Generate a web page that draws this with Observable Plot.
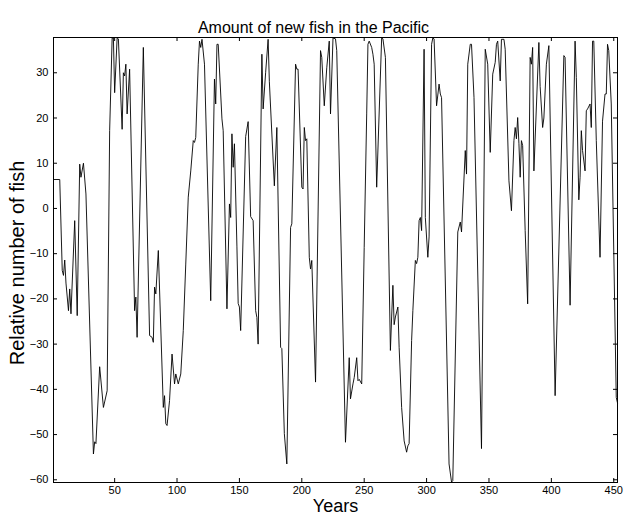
<!DOCTYPE html>
<html><head><meta charset="utf-8">
<script src="https://cdn.jsdelivr.net/npm/d3@7"></script>
<script src="https://cdn.jsdelivr.net/npm/@observablehq/plot@0.6"></script>
<style>body{margin:0;background:#fff}</style>
</head><body><div id="chart"></div>
<script>
const titleText = "Amount of new fish in the Pacific";
const xLabel = "Years";
const yLabel = "Relative number of fish";
const xTicks = [50, 100, 150, 200, 250, 300, 350, 400, 450];
const yTicks = [-60, -50, -40, -30, -20, -10, 0, 10, 20, 30];

const years = [1,6,8,9,10,11,13,14,15,18,20,22,23,25,27,33,34,35,38,41,44,46,48,49,50,52,53,56,57,58,59,60,62,66,67,68,73,78,80,81,82,83,85,89,90,91,92,94,96,98,99,101,103,105,107,109,111,113,114,115,117,118,119,120,122,127,130,131,132,133,136,137,140,142,143,144,145,146,148,149,150,151,155,157,159,161,163,164,165,168,169,171,173,174,178,180,183,184,186,188,191,192,195,196,197,200,201,202,203,204,206,207,208,211,215,216,218,220,222,223,225,227,228,235,238,239,241,242,244,245,246,248,250,252,253,254,256,257,258,260,264,265,267,271,272,273,274,275,277,278,280,282,284,285,286,288,289,291,292,293,294,295,296,298,299,301,302,304,305,306,308,310,311,312,318,320,321,325,327,328,331,332,333,335,336,338,344,347,349,351,353,355,356,357,359,360,362,363,366,368,370,371,372,373,374,375,376,377,379,381,383,384,385,386,390,391,393,394,396,398,403,410,411,415,419,420,422,423,424,425,427,428,429,431,432,433,434,436,439,441,443,444,445,446,448,452,453];
const values = [6.4,6.4,-13.7,-14.8,-11.4,-16.5,-22.6,-17.8,-23.3,-2.7,-23.7,9.8,6.9,10,3.2,-54.3,-51.6,-52,-35,-44,-40.3,17.2,37.7,37.7,25.6,37.7,37.5,17.5,30,29.3,31.9,20.9,30.8,-22.6,-19.6,-28.5,35.6,-28.1,-28.5,-29.6,-17.4,-18.9,-9.3,-44,-41.4,-47.6,-48,-42.5,-32.2,-38.8,-36.6,-38.8,-36.6,-27,-12.3,2.5,8.3,15,14.6,15.7,31.9,37,35.6,37.4,31.9,-20.4,28.6,23.1,36.3,36.3,19.8,17.2,-22.2,1,-2,16.5,9.1,14.3,-8.5,-21,-21.8,-27,15.9,19.2,-1.8,-2.7,-22.6,-24.1,-30,34.1,22,30,37.4,28,5,17.9,-30.7,-31,-49.8,-56.5,-4.2,-3.4,31.9,30.8,30.8,4.7,4.3,17.9,15,15.4,-10.8,-13.4,-11.5,-38.4,34.9,33.4,22.7,31.1,37,20.9,37.7,37.5,34.9,-51.7,-33,-42.1,-38.8,-37.4,-33,-38.1,-37.8,-38.8,-8.6,20.9,36.3,37,35.6,34.1,31.9,4.7,37.7,37.5,33.4,-31.4,-24,-17,-25.7,-24,-21.8,-30.7,-44,-51.4,-53.9,-52.5,-52,-29.2,-22.6,-11.5,-12.2,-10.8,-2.7,-2,-4.9,35.2,-2,-10.8,-6.3,36.3,37.7,37.5,22.7,27.5,25.3,24.5,-56.5,-60.5,-60.2,-5.2,-3,-5.2,12.8,7.6,31.9,36.3,36.3,24.5,-53.1,35.2,31.9,12.4,29.7,32.3,36.3,37,28.2,37.4,37.4,35.2,6.1,-0.5,15,17.9,15.4,20.1,14.3,6.9,15,13.9,-4.9,-21.1,33.4,31.9,35.6,8.3,36.7,27,17.9,20,31.9,36,-41.4,33.8,33.4,-21.4,37,29,1.9,6.9,17.2,12.8,8.3,21.6,22,23.1,17.9,37,37,15,-10.8,19.3,25.3,25.3,36.3,34.9,23.1,-41.8,-43];

const data = years.map((yr, i) => ({year: yr, value: values[i]}));

const chart = Plot.plot({
  width: 624,
  height: 520,
  marginLeft: 53,
  marginRight: 7,
  marginTop: 37,
  marginBottom: 38,
  style: {fontFamily: "'Liberation Sans', Arial, sans-serif", fontSize: "11px", color: "black", background: "white"},
  x: {domain: [1, 453]},
  y: {domain: [-60.6, 37.8]},
  marks: [
    Plot.line(data, {x: "year", y: "value", stroke: "black", strokeWidth: 0.9}),
    Plot.tickX(xTicks, {x: d => d, insetTop: 441, stroke: "black"}),
    Plot.tickX(xTicks, {x: d => d, insetBottom: 441, stroke: "black"}),
    Plot.tickY(yTicks, {y: d => d, insetRight: 560, stroke: "black"}),
    Plot.tickY(yTicks, {y: d => d, insetLeft: 560, stroke: "black"}),
    Plot.axisX(xTicks, {anchor: "bottom", tickSize: 0, tickPadding: 4, label: null, fontSize: 11}),
    Plot.axisY(yTicks, {anchor: "left", tickSize: 0, tickPadding: 5, label: null, fontSize: 11}),
    Plot.frame({stroke: "black", strokeWidth: 1}),
    Plot.text([titleText], {frameAnchor: "top", dx: -22, dy: -5, lineAnchor: "bottom", fontSize: 16}),
    Plot.text([xLabel], {frameAnchor: "bottom", dy: 24, lineAnchor: "middle", fontSize: 18}),
    Plot.text([yLabel], {frameAnchor: "left", dx: -36, dy: 3, rotate: -90, textAnchor: "middle", lineAnchor: "middle", fontSize: 20})
  ]
});
document.getElementById("chart").appendChild(chart);
</script>
</body></html>
